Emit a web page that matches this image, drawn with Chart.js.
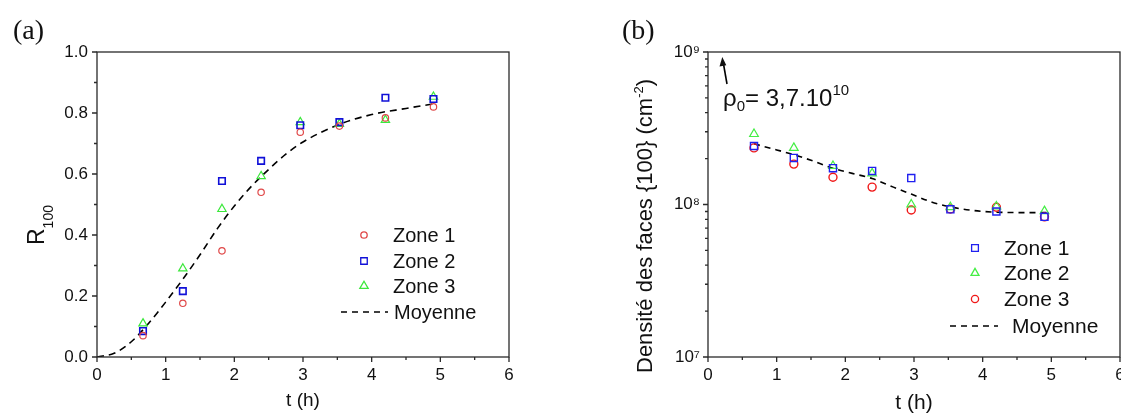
<!DOCTYPE html>
<html>
<head>
<meta charset="utf-8">
<script src="https://cdn.jsdelivr.net/npm/chart.js@4/dist/chart.umd.min.js"></script>
<style>
html, body { margin: 0; padding: 0; background: #fff; overflow: hidden; width: 1121px; height: 416px; }
canvas { position: absolute; top: 0; }
#ca { left: 0; }
#cb { left: 560px; }
</style>
</head>
<body>
<canvas id="ca" width="560" height="416"></canvas>
<canvas id="cb" width="600" height="416"></canvas>
<script>
// sampling times (h), same for both panels
var t = [0.67, 1.25, 1.82, 2.39, 2.96, 3.53, 4.2, 4.9];

// (a) R100
var r_zone1 = [0.07, 0.176, 0.348, 0.54, 0.737, 0.757, 0.784, 0.82];
var r_zone2 = [0.085, 0.216, 0.577, 0.643, 0.76, 0.77, 0.85, 0.846];
var r_zone3 = [0.11, 0.29, 0.485, 0.593, 0.77, 0.764, 0.777, 0.853];
var r_moy_t = [0, 0.25, 0.5, 0.75, 1, 1.25, 1.5, 1.75, 2, 2.25, 2.5, 2.75, 3, 3.5, 4, 4.5, 4.9];
var r_moy   = [0, 0.012, 0.05, 0.11, 0.18, 0.255, 0.335, 0.42, 0.495, 0.56, 0.615, 0.665, 0.705, 0.76, 0.795, 0.815, 0.83];

// (b) densité des faces {100}
var d_zone1 = [2.42e8, 2.02e8, 1.73e8, 1.66e8, 1.49e8, 0.93e8, 0.9e8, 0.83e8];
var d_zone2 = [2.9e8, 2.35e8, 1.79e8, 1.6e8, 1.0e8, 0.96e8, 0.97e8, 0.905e8];
var d_zone3 = [2.35e8, 1.84e8, 1.51e8, 1.3e8, 0.92e8, 0.935e8, 0.96e8, 0.83e8];
var d_moy_t = [0.67, 1.0, 1.25, 1.5, 1.82, 2.1, 2.39, 2.7, 2.96, 3.25, 3.53, 3.85, 4.2, 4.6, 5.0];
var d_moy   = [2.5e8, 2.28e8, 2.12e8, 1.95e8, 1.73e8, 1.6e8, 1.48e8, 1.3e8, 1.17e8, 1.04e8, 0.965e8, 0.915e8, 0.89e8, 0.885e8, 0.885e8];

// tick labels
var xTicks = [0, 1, 2, 3, 4, 5, 6];
var rTicks = [0, 0.2, 0.4, 0.6, 0.8, 1.0];
var dTicks = [1e7, 1e8, 1e9];
var dTickText = {7: '10\u2077', 8: '10\u2078', 9: '10\u2079'};

var SANS = '"Liberation Sans", Arial, sans-serif';
var SERIF = '"Liberation Serif", "Times New Roman", serif';

function pts(xs, ys) {
	return xs.map(function(v, i) { return {x: v, y: ys[i]}; });
}

function setTicks(list) {
	return function(scale) { scale.ticks = list.map(function(v) { return {value: v}; }); };
}

function marker(ctx, style, x, y, r) {
	ctx.beginPath();
	if (style == 'circle') {
		ctx.arc(x, y, r, 0, Math.PI * 2);
	} else if (style == 'rect') {
		var s = r * Math.SQRT1_2;
		ctx.rect(x - s, y - s, 2 * s, 2 * s);
	} else {
		var a = 0;
		ctx.moveTo(x + Math.sin(a) * r, y - Math.cos(a) * r);
		a += Math.PI * 2 / 3;
		ctx.lineTo(x + Math.sin(a) * r, y - Math.cos(a) * r);
		a += Math.PI * 2 / 3;
		ctx.lineTo(x + Math.sin(a) * r, y - Math.cos(a) * r);
		ctx.closePath();
	}
	ctx.stroke();
}

// text made of pieces: [text, size, dy]
function rich(ctx, parts, x, y, rot) {
	ctx.save();
	ctx.translate(x, y);
	if (rot) ctx.rotate(-Math.PI / 2);
	ctx.textBaseline = 'alphabetic';
	ctx.textAlign = 'left';
	var cx = 0;
	parts.forEach(function(p) {
		ctx.font = p[1] + 'px ' + SANS;
		ctx.fillText(p[0], cx, p[2]);
		cx += ctx.measureText(p[0]).width;
	});
	ctx.restore();
}

function frame(chart, xMinor, yMinor) {
	var c = chart.ctx, a = chart.chartArea, sx = chart.scales.x, sy = chart.scales.y;
	c.save();
	c.strokeStyle = '#2a2a2a';
	c.lineWidth = 1.3;
	c.strokeRect(a.left, a.top, a.right - a.left, a.bottom - a.top);
	c.beginPath();
	sx.ticks.forEach(function(tk) {
		var p = sx.getPixelForValue(tk.value);
		c.moveTo(p, a.bottom); c.lineTo(p, a.bottom + 5);
	});
	xMinor.forEach(function(v) {
		var p = sx.getPixelForValue(v);
		c.moveTo(p, a.bottom); c.lineTo(p, a.bottom + 3);
	});
	sy.ticks.forEach(function(tk) {
		var p = sy.getPixelForValue(tk.value);
		c.moveTo(a.left, p); c.lineTo(a.left - 5, p);
	});
	yMinor.forEach(function(v) {
		var p = sy.getPixelForValue(v);
		c.moveTo(a.left, p); c.lineTo(a.left - 3, p);
	});
	c.stroke();
	c.restore();
}

function legend(ctx, items, mx, tx, rows, size) {
	ctx.save();
	ctx.font = size + 'px ' + SANS;
	ctx.textBaseline = 'middle';
	ctx.fillStyle = '#111';
	items.forEach(function(it, i) {
		var y = rows[i];
		ctx.lineWidth = 1.3;
		if (it.style) {
			ctx.strokeStyle = it.color;
			marker(ctx, it.style, mx, y, it.r);
			ctx.fillText(it.label, tx, y + 1);
		} else {
			ctx.strokeStyle = '#000';
			ctx.lineWidth = 1.5;
			ctx.setLineDash([6, 5]);
			ctx.beginPath();
			ctx.moveTo(it.x0, y); ctx.lineTo(it.x1, y);
			ctx.stroke();
			ctx.setLineDash([]);
			ctx.fillText(it.label, it.tx, y + 1);
		}
	});
	ctx.restore();
}

var xMinor = [0.5, 1.5, 2.5, 3.5, 4.5, 5.5];
var rMinor = [0.1, 0.3, 0.5, 0.7, 0.9];
var dMinor = [];
[1e7, 1e8].forEach(function(d) { for (var k = 2; k < 10; k++) dMinor.push(k * d); });

var RED_A = '#e04848', BLUE_A = '#1010d8', GREEN_A = '#3ce83c';
var RED_B = '#f01818', BLUE_B = '#2020f0', GREEN_B = '#44ee44';

function xScale() {
	return {
		type: 'linear', min: 0, max: 6,
		afterBuildTicks: setTicks(xTicks),
		afterFit: function(s) { s.height = 59; },
		grid: {display: false, drawTicks: false},
		border: {display: false},
		ticks: {padding: 8, color: '#111', font: {family: SANS, size: 17}, callback: function(v) { return String(v); }},
		title: {display: true, text: 't (h)', color: '#111', font: {family: SANS, size: 19}, padding: {top: 0, bottom: 4}}
	};
}

// ---------- (a) ----------
new Chart(document.getElementById('ca'), {
	type: 'scatter',
	data: {
		datasets: [
			{label: 'Zone 1', data: pts(t, r_zone1), pointStyle: 'circle', pointRadius: 3.2, borderColor: RED_A, backgroundColor: 'transparent', borderWidth: 1.2},
			{label: 'Zone 2', data: pts(t, r_zone2), pointStyle: 'rect', pointRadius: 4.6, borderColor: BLUE_A, backgroundColor: 'transparent', borderWidth: 1.6},
			{label: 'Zone 3', data: pts(t, r_zone3), pointStyle: 'triangle', pointRadius: 4.8, borderColor: GREEN_A, backgroundColor: 'transparent', borderWidth: 1.2},
			{label: 'Moyenne', data: pts(r_moy_t, r_moy), showLine: true, pointRadius: 0, borderColor: '#000', borderWidth: 1.6, borderDash: [7, 5], tension: 0.4, cubicInterpolationMode: 'monotone'}
		]
	},
	options: {
		responsive: false, animation: false, events: [],
		layout: {padding: {left: 0, right: 51, top: 52, bottom: 0}},
		plugins: {legend: {display: false}, tooltip: {enabled: false}},
		scales: {
			x: xScale(),
			y: {
				type: 'linear', min: 0, max: 1,
				afterBuildTicks: setTicks(rTicks),
				afterFit: function(s) { s.width = 97; },
				grid: {display: false, drawTicks: false},
				border: {display: false},
				ticks: {padding: 9, color: '#111', font: {family: SANS, size: 17}, callback: function(v) { return v.toFixed(1); }}
			}
		}
	},
	plugins: [{
		id: 'decoA',
		afterDraw: function(chart) {
			var c = chart.ctx;
			frame(chart, xMinor, rMinor);
			c.fillStyle = '#111';
			rich(c, [['R', 23, 0], ['100', 14, 9]], 44, 245, true);
			c.save();
			c.font = '28px ' + SERIF;
			c.textBaseline = 'middle';
			c.fillText('(a)', 13, 32);
			c.restore();
			legend(c, [
				{label: 'Zone 1', style: 'circle', color: RED_A, r: 3.2},
				{label: 'Zone 2', style: 'rect', color: BLUE_A, r: 4.6},
				{label: 'Zone 3', style: 'triangle', color: GREEN_A, r: 4.8},
				{label: 'Moyenne', x0: 341, x1: 388, tx: 394}
			], 364, 393, [235, 261, 286, 312], 20);
		}
	}]
});

// ---------- (b) ----------
new Chart(document.getElementById('cb'), {
	type: 'scatter',
	data: {
		datasets: [
			{label: 'Zone 1', data: pts(t, d_zone1), pointStyle: 'rect', pointRadius: 5, borderColor: BLUE_B, backgroundColor: 'transparent', borderWidth: 1.4},
			{label: 'Zone 2', data: pts(t, d_zone2), pointStyle: 'triangle', pointRadius: 5, borderColor: GREEN_B, backgroundColor: 'transparent', borderWidth: 1.2},
			{label: 'Zone 3', data: pts(t, d_zone3), pointStyle: 'circle', pointRadius: 4, borderColor: RED_B, backgroundColor: 'transparent', borderWidth: 1.4},
			{label: 'Moyenne', data: pts(d_moy_t, d_moy), showLine: true, pointRadius: 0, borderColor: '#000', borderWidth: 1.6, borderDash: [6, 5], tension: 0.4, cubicInterpolationMode: 'monotone'}
		]
	},
	options: {
		responsive: false, animation: false, events: [],
		layout: {padding: {left: 0, right: 40, top: 52, bottom: 0}},
		plugins: {legend: {display: false}, tooltip: {enabled: false}},
		scales: {
			x: Object.assign(xScale(), {title: {display: true, text: 't (h)', color: '#111', font: {family: SANS, size: 21}, padding: {top: 0, bottom: 0}}}),
			y: {
				type: 'logarithmic', min: 1e7, max: 1e9,
				afterBuildTicks: setTicks(dTicks),
				afterFit: function(s) { s.width = 148; },
				grid: {display: false, drawTicks: false},
				border: {display: false},
				ticks: {padding: 8, color: '#111', font: {family: SANS, size: 17}, callback: function(v) { return dTickText[Math.round(Math.log10(v))]; }}
			}
		}
	},
	plugins: [{
		id: 'decoB',
		afterDraw: function(chart) {
			var c = chart.ctx;
			frame(chart, xMinor, dMinor);
			c.fillStyle = '#111';
			rich(c, [['Densit\u00e9 des faces {100} (cm', 22, 0], ['-2', 13, -9], [')', 22, 0]], 92, 373, true);
			c.save();
			c.font = '28px ' + SERIF;
			c.textBaseline = 'middle';
			c.fillText('(b)', 62, 32);
			// arrow to rho0
			c.strokeStyle = '#000';
			c.lineWidth = 1.6;
			c.beginPath();
			c.moveTo(167, 84); c.lineTo(163.5, 64);
			c.stroke();
			c.beginPath();
			c.moveTo(162.3, 57); c.lineTo(159.5, 66.5); c.lineTo(166.3, 65.3); c.closePath();
			c.fill();
			c.restore();
			rich(c, [['\u03c1', 24, 0], ['0', 15, 5], ['= 3,7.10', 24, 0], ['10', 15, -11]], 163, 106, false);
			legend(c, [
				{label: 'Zone 1', style: 'rect', color: BLUE_B, r: 4.8},
				{label: 'Zone 2', style: 'triangle', color: GREEN_B, r: 4.6},
				{label: 'Zone 3', style: 'circle', color: RED_B, r: 3.6},
				{label: 'Moyenne', x0: 390, x1: 438, tx: 452}
			], 415, 444, [248, 273, 299, 326], 21);
		}
	}]
});
</script>
</body>
</html>
